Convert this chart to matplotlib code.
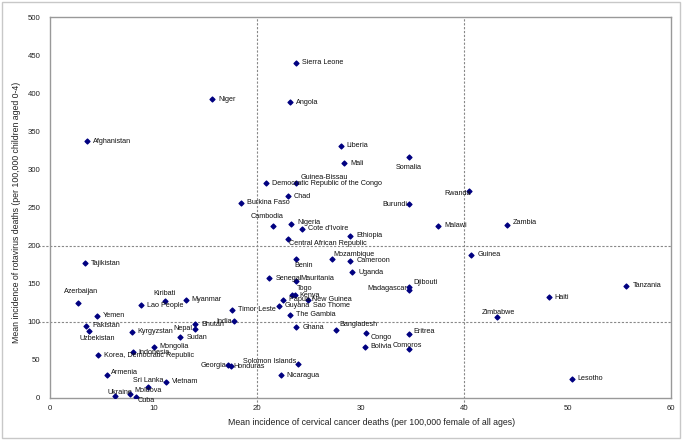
import matplotlib
matplotlib.use("Agg")
import matplotlib.pyplot as plt
from matplotlib.patches import Rectangle

plt.rcParams['font.family'] = ['Liberation Sans', 'DejaVu Sans']

# Data
countries = [
    'Sierra Leone', 'Angola', 'Niger', 'Afghanistan', 'Liberia', 'Mali', 'Somalia',
    'Democratic Republic of the Congo', 'Guinea-Bissau', 'Chad', 'Burkina Faso',
    'Rwanda', 'Burundi', 'Cambodia', 'Nigeria', "Cote d'Ivoire", 'Ethiopia',
    'Central African Republic', 'Malawi', 'Zambia', 'Guinea', 'Tanzania', 'Haiti',
    'Zimbabwe', 'Lesotho', 'Mozambique', 'Benin', 'Cameroon', 'Uganda', 'Senegal',
    'Mauritania', 'Djibouti', 'Madagascar', 'Togo', 'Kenya', 'Papua New Guinea',
    'Sao Thome', 'Guyana', 'The Gambia', 'Ghana', 'Bangladesh', 'Congo', 'Eritrea',
    'Bolivia', 'Comoros', 'Solomon Islands', 'Nicaragua', 'Georgia', 'Honduras',
    'Timor Leste', 'India', 'Bhutan', 'Nepal', 'Sudan', 'Myanmar', 'Kiribati',
    'Lao People', 'Tajikistan', 'Azerbaijan', 'Yemen', 'Pakistan', 'Uzbekistan',
    'Kyrgyzstan', 'Mongolia', 'Indonesia', 'Korea, Democratic Republic', 'Armenia',
    'Vietnam', 'Sri Lanka', 'Ukraine', 'Moldova', 'Cuba',
]
cervical = [
    23.8, 23.2, 15.7, 3.6, 28.1, 28.4, 34.7,
    20.9, 23.8, 23.0, 18.5,
    40.5, 34.7, 21.5, 23.3, 24.3, 29.0,
    23.0, 37.5, 44.2, 40.7, 55.7, 48.2,
    43.2, 50.4, 27.2, 23.8, 29.0, 29.2, 21.2,
    23.8, 34.7, 34.7, 23.4, 23.7, 22.5,
    24.9, 22.1, 23.2, 23.8, 27.6, 30.5, 34.7,
    30.4, 34.7, 24.0, 22.3, 17.2, 17.5,
    17.6, 17.8, 14.0, 14.0, 12.6, 13.1, 11.1,
    8.8, 3.4, 2.7, 4.5, 3.5, 3.8,
    7.9, 10.0, 8.0, 4.6, 5.5,
    11.2, 9.5, 6.3, 7.7, 8.3,
]
rotavirus = [
    440, 388, 392, 337, 331, 308, 316,
    282, 282, 265, 256,
    272, 255, 226, 228, 222, 213,
    209, 226, 227, 188, 147, 132,
    106, 25, 182, 182, 180, 165, 157,
    153, 146, 142, 135, 135, 129,
    129, 121, 109, 93, 89, 85, 84,
    67, 64, 45, 30, 43, 42,
    116, 101, 97, 91, 80, 129, 127,
    122, 177, 125, 108, 95, 88,
    87, 67, 60, 56, 30,
    21, 14, 2, 5, 1,
]

# label placement: (dx px, dy px, ha); everything else sits right of the point
label_pos = {
    'Somalia': (0, -10, 'center'), 'Guinea-Bissau': (4, 6, 'left'),
    'Rwanda': (2, -3, 'right'), 'Burundi': (-2, -1, 'right'),
    'Cambodia': (-5, 9, 'center'), 'Nigeria': (6, 2, 'left'),
    'Central African Republic': (1, -5, 'left'), 'Zambia': (5, 3, 'left'),
    'Zimbabwe': (1, 5, 'center'), 'Mozambique': (2, 5, 'left'),
    'Benin': (-2, -6, 'left'), 'Mauritania': (4, 3, 'left'),
    'Djibouti': (4, 4, 'left'), 'Madagascar': (-2, 1, 'right'),
    'Togo': (5, 7, 'left'), 'Kenya': (4, 0, 'left'),
    'Sao Thome': (5, -6, 'left'), 'Bangladesh': (4, 6, 'left'),
    'Congo': (5, -4, 'left'), 'Eritrea': (4, 2, 'left'),
    'Comoros': (-2, 4, 'center'), 'Solomon Islands': (-2, 2, 'right'),
    'Georgia': (-2, 0, 'right'), 'Honduras': (2, -1, 'left'),
    'India': (-2, 0, 'right'), 'Nepal': (-3, 0, 'right'),
    'Kiribati': (0, 8, 'center'), 'Azerbaijan': (3, 11, 'center'),
    'Uzbekistan': (8, -8, 'center'), 'Armenia': (4, 3, 'left'),
    'Sri Lanka': (0, 7, 'center'), 'Ukraine': (-8, 4, 'left'),
    'Moldova': (5, 4, 'left'), 'Cuba': (2, -3, 'left'),
}

fig = plt.figure(figsize=(6.85, 4.42), dpi=100)
fig.patches.append(Rectangle((2 / 685, 4 / 442), 678 / 685, 436 / 442,
                             transform=fig.transFigure, fill=False,
                             edgecolor='#c8c8c8', linewidth=1))
ax = fig.add_axes([50 / 685, 44 / 442, 621 / 685, 381 / 442])

# quadrant lines
for xv in (20, 40):
    ax.axvline(xv, ymin=-0.02, ymax=1, color='#888888', lw=0.8,
               ls=(0, (2, 1.5)), clip_on=False, zorder=1)
for yv in (100, 200):
    ax.axhline(yv, xmin=-0.02, xmax=1, color='#888888', lw=0.8,
               ls=(0, (2, 1.5)), clip_on=False, zorder=1)

ax.scatter(cervical, rotavirus, marker='D', s=6, color='#000080', zorder=3)

for name, x, y in zip(countries, cervical, rotavirus):
    dx, dy, ha = label_pos.get(name, (6, 0, 'left'))
    ax.annotate(name, (x, y), xytext=(dx, dy), textcoords='offset pixels',
                ha=ha, va='center', fontsize=5.2, color='#111111', zorder=4)

ax.set_xlim(0, 60)
ax.set_ylim(0, 500)
ax.set_xticks(range(0, 61, 10))
ax.set_yticks(range(0, 501, 50))
ax.tick_params(length=0, labelsize=5.6, colors='#222222')
ax.tick_params(axis='x', pad=5)
ax.tick_params(axis='y', pad=7)
for sp in ax.spines.values():
    sp.set_color('#999999')
    sp.set_linewidth(1)

ax.set_xlabel('Mean incidence of cervical cancer deaths (per 100,000 female of all ages)',
              fontsize=6.3, color='#222222')
ax.set_ylabel('Mean incidence of rotavirus deaths (per 100,000 children aged 0-4)',
              fontsize=6.3, color='#222222')
ax.xaxis.set_label_coords(0.518, -0.052)
ax.yaxis.set_label_coords(-0.046, 0.486)

fig.savefig('out.png', dpi=100)
